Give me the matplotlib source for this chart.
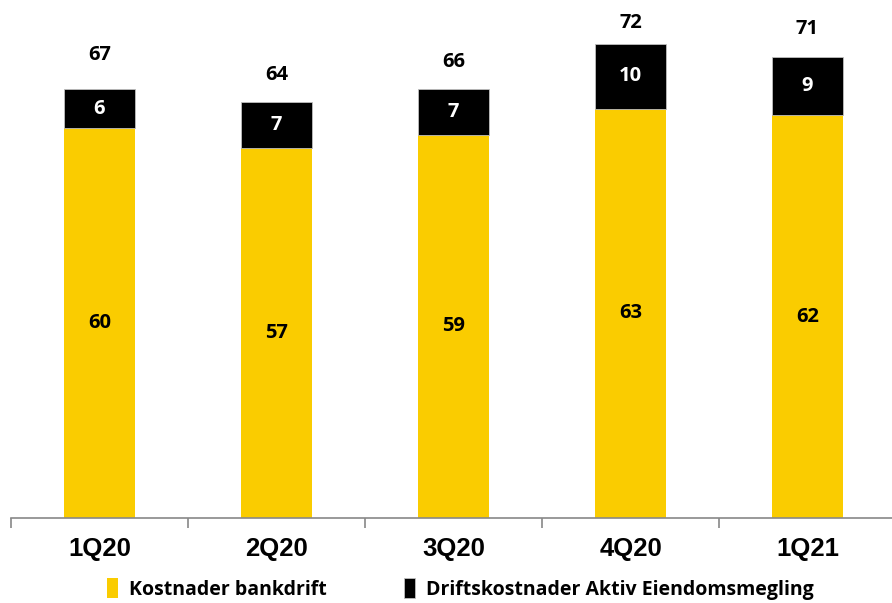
import numpy as np
import matplotlib.pyplot as plt

# Data
quarters = ["1Q20", "2Q20", "3Q20", "4Q20", "1Q21"]
bankdrift = [60, 57, 59, 63, 62]
aktiv = [6, 7, 7, 10, 9]
totals = [67, 64, 66, 72, 71]
legend_labels = ["Kostnader bankdrift", "Driftskostnader Aktiv Eiendomsmegling"]

yellow = "#FACC00"
black = "#000000"
label_font = ["Open Sans", "DejaVu Sans"]

fig = plt.figure(figsize=(8.92, 6.03), dpi=100)
ax = fig.add_axes([11 / 892, 85 / 603, 885 / 892, 518 / 603])

x = np.arange(len(quarters))
w = 0.4
b1 = ax.bar(x, bankdrift, w, color=yellow, label=legend_labels[0])
b2 = ax.bar(x, aktiv, w, bottom=bankdrift, color=black, label=legend_labels[1],
            edgecolor="#BFBFBF", linewidth=0.6)

for i in range(len(quarters)):
    ax.text(x[i], bankdrift[i] / 2, str(bankdrift[i]), ha="center", va="center",
            fontsize=14.5, fontweight="bold", family=label_font, color="black")
    ax.text(x[i], bankdrift[i] + aktiv[i] / 2, str(aktiv[i]), ha="center", va="center",
            fontsize=14.5, fontweight="bold", family=label_font, color="white")
    ax.text(x[i], totals[i] + 4.2, str(totals[i]), ha="center", va="center",
            fontsize=14.5, fontweight="bold", family=label_font, color="black")

ax.set_xlim(-0.5, 4.5)
ax.set_ylim(0, 518 / 6.5)
ax.set_yticks([])
for s in ["top", "right", "left"]:
    ax.spines[s].set_visible(False)
ax.spines["bottom"].set_color("#888888")
ax.spines["bottom"].set_linewidth(1.2)

ax.set_xticks(x)
ax.set_xticklabels(quarters, fontsize=18.5, fontweight="bold", family="Liberation Sans")
ax.tick_params(axis="x", which="major", length=0, pad=14)
ax.set_xticks(np.arange(-0.5, 5, 1), minor=True)
ax.tick_params(axis="x", which="minor", length=7, color="#888888", width=1.2)

leg = fig.legend(handles=[b1, b2], loc="center", bbox_to_anchor=(0.516, 14 / 603),
                 ncol=2, frameon=False, handlelength=0.55, handleheight=1.2,
                 handletextpad=0.55, columnspacing=4.0,
                 prop={"family": label_font, "weight": "bold", "size": 14})

fig.savefig("out.png", dpi=100)
